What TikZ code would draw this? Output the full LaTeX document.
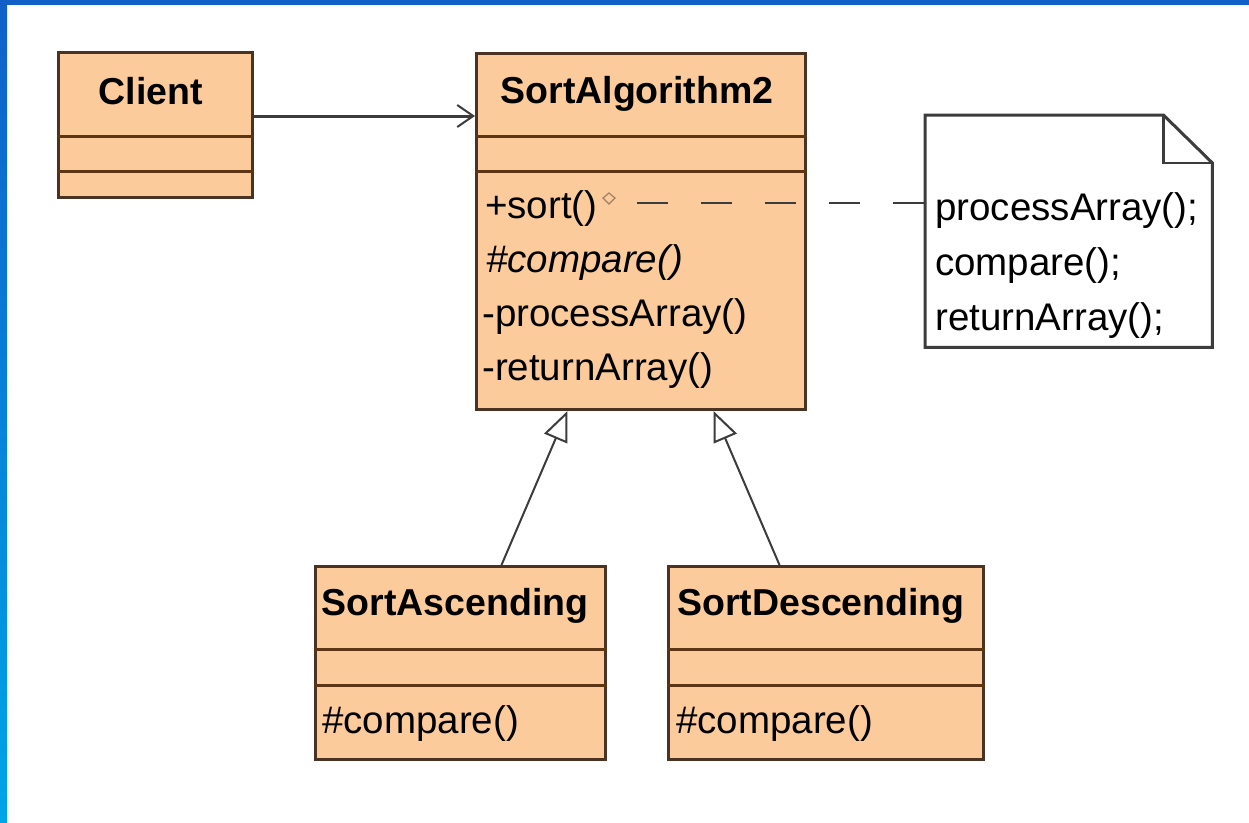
\documentclass[tikz,border=0pt]{standalone}
\usepackage{fontspec}
\setmainfont{Liberation Sans}
\usetikzlibrary{arrows.meta,calc}

\definecolor{peach}{HTML}{FCCB9C}
\definecolor{boxline}{HTML}{4A3322}
\definecolor{divline}{HTML}{5C3514}
\definecolor{wire}{HTML}{3C3C3C}
\definecolor{bartop}{HTML}{1060C8}
\definecolor{barbot}{HTML}{00A4E8}
\definecolor{marker}{HTML}{A08060}

\begin{document}
\begin{tikzpicture}[x=1pt,y=-1pt,
  classbox/.style={draw=boxline, fill=peach, line width=3pt, inner sep=0pt, anchor=north west},
  divider/.style={draw=divline, line width=3pt},
  title/.style={inner sep=0pt, anchor=base, font=\fontsize{37.5}{42}\selectfont\bfseries},
  op/.style={inner sep=0pt, anchor=base west, font=\fontsize{38.5}{46}\selectfont},
  noteshape/.style={inner sep=0pt, anchor=north west},
  noteline/.style={draw=wire, line width=3pt, fill=white, line join=miter},
  assoc/.style={draw=wire, line width=3pt, -{Straight Barb[length=16pt,width=22pt,line width=2pt]}},
  inherit/.style={draw=wire, line width=2pt, -{Triangle[open,length=30pt,width=25pt,line width=2pt]}},
  notelink/.style={draw=wire, line width=2pt, dash pattern=on 31pt off 33pt},
]
\useasboundingbox (0,0) rectangle (1249,822);
\fill[white] (0,0) rectangle (1249,822);

% window frame
\fill[bartop] (0,0) rectangle (1249,5);
\shade[top color=bartop, bottom color=barbot] (0,0) rectangle (7,822);

% Client
\node[classbox, minimum width=194pt, minimum height=145pt] (client) at (57,51) {};
\draw[divider] (client.west |- 0,136) -- (client.east |- 0,136);
\draw[divider] (client.west |- 0,171) -- (client.east |- 0,171);
\node[title] (clientname) at (151,104) {Client};

% SortAlgorithm2
\node[classbox, minimum width=329pt, minimum height=356pt] (sa) at (475,52) {};
\draw[divider] (sa.west |- 0,136) -- (sa.east |- 0,136);
\draw[divider] (sa.west |- 0,171) -- (sa.east |- 0,171);
\node[title] (saname) at (637,103) {SortAlgorithm2};
\node[op] (opsort) at (485,218) {+sort()};
\node[op] (opcompare) at (486,272) {\itshape\#compare()};
\node[op] (opprocess) at (482,326) {-processArray()};
\node[op] (opreturn) at (482,380) {-returnArray()};
\draw[marker, line width=1.2pt] (603,198) -- (609,193) -- (615,198) -- (609,204) -- cycle;

% SortAscending
\node[classbox, minimum width=290pt, minimum height=193pt] (asc) at (314,565) {};
\draw[divider] (asc.west |- 0,649) -- (asc.east |- 0,649);
\draw[divider] (asc.west |- 0,685) -- (asc.east |- 0,685);
\node[title] (ascname) at (455,615) {SortAscending};
\node[op] (asccompare) at (322,733) {\#compare()};

% SortDescending
\node[classbox, minimum width=315pt, minimum height=193pt] (desc) at (667,565) {};
\draw[divider] (desc.west |- 0,649) -- (desc.east |- 0,649);
\draw[divider] (desc.west |- 0,685) -- (desc.east |- 0,685);
\node[title] (descname) at (821,615) {SortDescending};
\node[op] (desccompare) at (676,733) {\#compare()};

% note with folded corner
\node[noteshape, minimum width=287pt, minimum height=232pt] (note) at (925,115) {};
\draw[noteline] (note.north west) -- ($(note.north east)+(-49,0)$)
  -- ($(note.north east)+(0,48)$) -- (note.south east) -- (note.south west) -- cycle;
\draw[draw=wire, line width=2.5pt] ($(note.north east)+(-49,0)$) -- ++(0,48) -- ($(note.north east)+(0,48)$);
\node[op] (noteA) at (935,220) {processArray();};
\node[op] (noteB) at (935,275) {compare();};
\node[op] (noteC) at (935,330) {returnArray();};

% connectors
\coordinate (assocy) at (0,116);
\draw[assoc] (client.east |- assocy) -- (sa.west |- assocy);
\draw[inherit] ($(asc.north)+(41,0)$) -- ($(sa.south)+(-73.5,0)$);
\draw[inherit] ($(desc.north)+(-46.5,0)$) -- ($(sa.south)+(72.5,0)$);
\coordinate (linkstart) at (637,203);
\draw[notelink] (linkstart) -- (note.west |- linkstart);
\end{tikzpicture}
\end{document}
